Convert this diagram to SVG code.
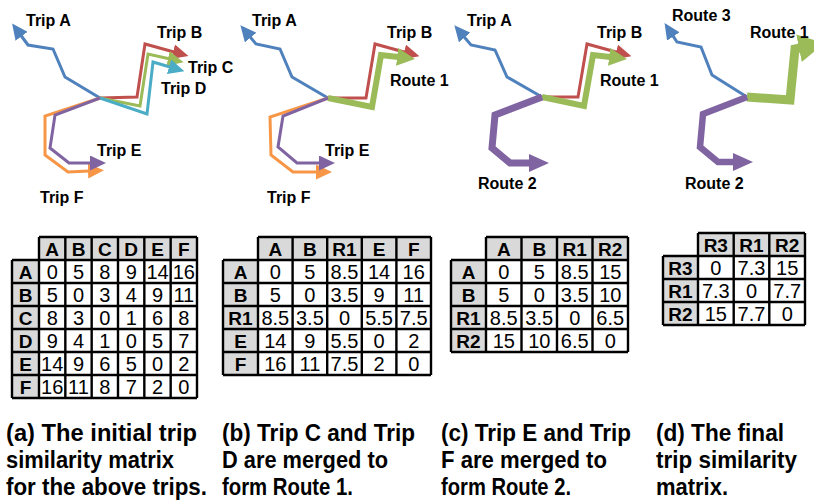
<svg xmlns="http://www.w3.org/2000/svg" width="814" height="501" viewBox="0 0 814 501">
<style>
.bg{fill:#fff}
.hdr{fill:#d9d9d9}
.grid{fill:none;stroke:#000;stroke-width:2.4}
.th{font-family:"Liberation Sans",Arial,sans-serif;font-weight:bold;font-size:19px;text-anchor:middle;fill:#000}
.td{font-family:"Liberation Sans",Arial,sans-serif;font-size:20px;text-anchor:middle;fill:#000}
.lbl{font-family:"Liberation Sans",Arial,sans-serif;font-weight:bold;font-size:16px;fill:#000}
.cap{font-family:"Liberation Sans",Arial,sans-serif;font-weight:bold;font-size:23.5px;fill:#000}
.trip{fill:none;stroke-linejoin:miter;stroke-linecap:butt}
.w3{stroke-width:3}
.blue{stroke:#4f81bd}.red{stroke:#c0504d}.green{stroke:#9bbb59}.cyan{stroke:#4bacc6}.purple{stroke:#8064a2}.orange{stroke:#f79646}
</style>
<defs>
<marker id="ah-blue" markerUnits="userSpaceOnUse" viewBox="0 0 16 15" markerWidth="16" markerHeight="15" refX="1" refY="7.5" orient="auto"><path d="M0,0 L16,7.5 L0,15 z" fill="#4f81bd"/></marker>
<marker id="ah-red" markerUnits="userSpaceOnUse" viewBox="0 0 16 15" markerWidth="16" markerHeight="15" refX="1" refY="7.5" orient="auto"><path d="M0,0 L16,7.5 L0,15 z" fill="#c0504d"/></marker>
<marker id="ah-green" markerUnits="userSpaceOnUse" viewBox="0 0 16 15" markerWidth="16" markerHeight="15" refX="1" refY="7.5" orient="auto"><path d="M0,0 L16,7.5 L0,15 z" fill="#9bbb59"/></marker>
<marker id="ah-cyan" markerUnits="userSpaceOnUse" viewBox="0 0 16 15" markerWidth="16" markerHeight="15" refX="1" refY="7.5" orient="auto"><path d="M0,0 L16,7.5 L0,15 z" fill="#4bacc6"/></marker>
<marker id="ah-purple" markerUnits="userSpaceOnUse" viewBox="0 0 16 15" markerWidth="16" markerHeight="15" refX="1" refY="7.5" orient="auto"><path d="M0,0 L16,7.5 L0,15 z" fill="#8064a2"/></marker>
<marker id="ah-orange" markerUnits="userSpaceOnUse" viewBox="0 0 16 15" markerWidth="16" markerHeight="15" refX="1" refY="7.5" orient="auto"><path d="M0,0 L16,7.5 L0,15 z" fill="#f79646"/></marker>
<marker id="ah-green-m" markerUnits="userSpaceOnUse" viewBox="0 0 18 18" markerWidth="18" markerHeight="18" refX="1" refY="9" orient="auto"><path d="M0,0 L18,9 L0,18 z" fill="#9bbb59"/></marker>
<marker id="ah-purple-m" markerUnits="userSpaceOnUse" viewBox="0 0 20 18" markerWidth="20" markerHeight="18" refX="1" refY="9" orient="auto"><path d="M0,0 L20,9 L0,18 z" fill="#8064a2"/></marker>
<marker id="ah-green-l" markerUnits="userSpaceOnUse" viewBox="0 0 26 28" markerWidth="26" markerHeight="28" refX="1" refY="14" orient="auto"><path d="M0,0 L26,14 L0,28 z" fill="#9bbb59"/></marker>
</defs>
<rect class="bg" x="0" y="0" width="814" height="501"/>

<g id="connectors">
  <polyline id="a-tripA" class="trip w3 blue" points="100,98 65,77 53,49 28,45 21,35.5" marker-end="url(#ah-blue)"/>
  <polyline id="a-tripB" class="trip w3 red" points="100,98 137,97 145,44 174,52" marker-end="url(#ah-red)"/>
  <polyline id="a-tripC" class="trip w3 green" points="100,98 140,106 148,54 169,58.8" marker-end="url(#ah-green)"/>
  <polyline id="a-tripD" class="trip w3 cyan" points="100,98 147,114 153,62 170,67" marker-end="url(#ah-cyan)"/>
  <polyline id="a-tripF" class="trip w3 orange" points="100,98 45,116 45,155 68,172 89,171" marker-end="url(#ah-orange)"/>
  <polyline id="a-tripE" class="trip w3 purple" points="100,98 55,115 50,148 69,163 91,163" marker-end="url(#ah-purple)"/>
  <polyline id="b-tripA" class="trip w3 blue" points="328,98 292,77 280,49 256,44 250,36.8" marker-end="url(#ah-blue)"/>
  <polyline id="b-tripB" class="trip w3 red" points="328,98 366,98 375,44 405,52.2" marker-end="url(#ah-red)"/>
  <polyline id="b-route1" class="trip green" stroke-width="6" points="328,98 372,107 381,55 398.1,57" marker-end="url(#ah-green-m)"/>
  <polyline id="b-tripF" class="trip w3 orange" points="328,98 270,117 271,155 293,172 317,172" marker-end="url(#ah-orange)"/>
  <polyline id="b-tripE" class="trip w3 purple" points="328,98 283,116 278,147 297,163 320,163" marker-end="url(#ah-purple)"/>
  <polyline id="c-tripA" class="trip w3 blue" points="542,97 507,77 495,50 471,45 464,36.7" marker-end="url(#ah-blue)"/>
  <polyline id="c-tripB" class="trip w3 red" points="542,97 578,97 587,44 617,52.2" marker-end="url(#ah-red)"/>
  <polyline id="c-route1" class="trip green" stroke-width="6" points="542,97 584,106 593,55 610.1,57" marker-end="url(#ah-green-m)"/>
  <polyline id="c-route2" class="trip purple" stroke-width="7" points="542,97 495,115 492,148 510,163 530,163" marker-end="url(#ah-purple-m)"/>
  <polyline id="d-route3" class="trip w3 blue" points="747,97 712,75 701,47 677,42 672.8,35.6" marker-end="url(#ah-blue)"/>
  <polyline id="d-route1" class="trip green" stroke-width="9" points="747,97 790,100 795,49 800,48" marker-end="url(#ah-green-l)"/>
  <polyline id="d-route2" class="trip purple" stroke-width="6.5" points="747,97 703,114 700,147 718,162 734,162" marker-end="url(#ah-purple-m)"/>
</g>

<g id="labels-a">
  <text class="lbl" x="26" y="26">Trip A</text>
  <text class="lbl" x="157" y="37.5">Trip B</text>
  <text class="lbl" x="188" y="73">Trip C</text>
  <text class="lbl" x="161" y="94">Trip D</text>
  <text class="lbl" x="97" y="156">Trip E</text>
  <text class="lbl" x="40" y="203">Trip F</text>
</g>
<g id="labels-b">
  <text class="lbl" x="252" y="26">Trip A</text>
  <text class="lbl" x="387" y="37.5">Trip B</text>
  <text class="lbl" x="390" y="86">Route 1</text>
  <text class="lbl" x="325" y="156">Trip E</text>
  <text class="lbl" x="267" y="203">Trip F</text>
</g>
<g id="labels-c">
  <text class="lbl" x="467" y="26">Trip A</text>
  <text class="lbl" x="597" y="37.5">Trip B</text>
  <text class="lbl" x="600" y="86">Route 1</text>
  <text class="lbl" x="478" y="189">Route 2</text>
</g>
<g id="labels-d">
  <text class="lbl" x="672" y="21">Route 3</text>
  <text class="lbl" x="750" y="37.5">Route 1</text>
  <text class="lbl" x="685" y="189">Route 2</text>
</g>

<g id="table-a">
  <rect class="hdr" x="39" y="237" width="158" height="23"/>
  <rect class="hdr" x="12" y="260" width="27" height="138"/>
  <path class="grid" d="M39,237H197M12,260H197M12,283H197M12,306H197M12,329H197M12,352H197M12,375H197M12,398H197M12,260V398M39,237V398M65.33,237V398M91.67,237V398M118,237V398M144.33,237V398M170.67,237V398M197,237V398"/>
  <text class="th" y="255.5"><tspan x="52.2">A</tspan><tspan x="78.5">B</tspan><tspan x="104.8">C</tspan><tspan x="131.2">D</tspan><tspan x="157.5">E</tspan><tspan x="183.8">F</tspan></text>
  <text class="th" x="25.5" y="278.5">A</text><text class="th" x="25.5" y="301.5">B</text><text class="th" x="25.5" y="324.5">C</text><text class="th" x="25.5" y="347.5">D</text><text class="th" x="25.5" y="370.5">E</text><text class="th" x="25.5" y="393.5">F</text>
  <text class="td" y="278.5"><tspan x="52.2">0</tspan><tspan x="78.5">5</tspan><tspan x="104.8">8</tspan><tspan x="131.2">9</tspan><tspan x="157.5">14</tspan><tspan x="183.8">16</tspan></text>
  <text class="td" y="301.5"><tspan x="52.2">5</tspan><tspan x="78.5">0</tspan><tspan x="104.8">3</tspan><tspan x="131.2">4</tspan><tspan x="157.5">9</tspan><tspan x="183.8">11</tspan></text>
  <text class="td" y="324.5"><tspan x="52.2">8</tspan><tspan x="78.5">3</tspan><tspan x="104.8">0</tspan><tspan x="131.2">1</tspan><tspan x="157.5">6</tspan><tspan x="183.8">8</tspan></text>
  <text class="td" y="347.5"><tspan x="52.2">9</tspan><tspan x="78.5">4</tspan><tspan x="104.8">1</tspan><tspan x="131.2">0</tspan><tspan x="157.5">5</tspan><tspan x="183.8">7</tspan></text>
  <text class="td" y="370.5"><tspan x="52.2">14</tspan><tspan x="78.5">9</tspan><tspan x="104.8">6</tspan><tspan x="131.2">5</tspan><tspan x="157.5">0</tspan><tspan x="183.8">2</tspan></text>
  <text class="td" y="393.5"><tspan x="52.2">16</tspan><tspan x="78.5">11</tspan><tspan x="104.8">8</tspan><tspan x="131.2">7</tspan><tspan x="157.5">2</tspan><tspan x="183.8">0</tspan></text>
</g>

<g id="table-b">
  <rect class="hdr" x="258" y="237" width="173" height="23"/>
  <rect class="hdr" x="223" y="260" width="35" height="115"/>
  <path class="grid" d="M258,237H431M223,260H431M223,283H431M223,306H431M223,329H431M223,352H431M223,375H431M223,260V375M258,237V375M292.6,237V375M327.2,237V375M361.8,237V375M396.4,237V375M431,237V375"/>
  <text class="th" y="255.5"><tspan x="275.3">A</tspan><tspan x="309.9">B</tspan><tspan x="344.5">R1</tspan><tspan x="379.1">E</tspan><tspan x="413.7">F</tspan></text>
  <text class="th" x="240.5" y="278.5">A</text><text class="th" x="240.5" y="301.5">B</text><text class="th" x="240.5" y="324.5">R1</text><text class="th" x="240.5" y="347.5">E</text><text class="th" x="240.5" y="370.5">F</text>
  <text class="td" y="278.5"><tspan x="275.3">0</tspan><tspan x="309.9">5</tspan><tspan x="344.5">8.5</tspan><tspan x="379.1">14</tspan><tspan x="413.7">16</tspan></text>
  <text class="td" y="301.5"><tspan x="275.3">5</tspan><tspan x="309.9">0</tspan><tspan x="344.5">3.5</tspan><tspan x="379.1">9</tspan><tspan x="413.7">11</tspan></text>
  <text class="td" y="324.5"><tspan x="275.3">8.5</tspan><tspan x="309.9">3.5</tspan><tspan x="344.5">0</tspan><tspan x="379.1">5.5</tspan><tspan x="413.7">7.5</tspan></text>
  <text class="td" y="347.5"><tspan x="275.3">14</tspan><tspan x="309.9">9</tspan><tspan x="344.5">5.5</tspan><tspan x="379.1">0</tspan><tspan x="413.7">2</tspan></text>
  <text class="td" y="370.5"><tspan x="275.3">16</tspan><tspan x="309.9">11</tspan><tspan x="344.5">7.5</tspan><tspan x="379.1">2</tspan><tspan x="413.7">0</tspan></text>
</g>

<g id="table-c">
  <rect class="hdr" x="486" y="237" width="142" height="23"/>
  <rect class="hdr" x="451" y="260" width="35" height="92"/>
  <path class="grid" d="M486,237H628M451,260H628M451,283H628M451,306H628M451,329H628M451,352H628M451,260V352M486,237V352M521.5,237V352M557,237V352M592.5,237V352M628,237V352"/>
  <text class="th" y="255.5"><tspan x="503.75">A</tspan><tspan x="539.25">B</tspan><tspan x="574.75">R1</tspan><tspan x="610.25">R2</tspan></text>
  <text class="th" x="468.5" y="278.5">A</text><text class="th" x="468.5" y="301.5">B</text><text class="th" x="468.5" y="324.5">R1</text><text class="th" x="468.5" y="347.5">R2</text>
  <text class="td" y="278.5"><tspan x="503.75">0</tspan><tspan x="539.25">5</tspan><tspan x="574.75">8.5</tspan><tspan x="610.25">15</tspan></text>
  <text class="td" y="301.5"><tspan x="503.75">5</tspan><tspan x="539.25">0</tspan><tspan x="574.75">3.5</tspan><tspan x="610.25">10</tspan></text>
  <text class="td" y="324.5"><tspan x="503.75">8.5</tspan><tspan x="539.25">3.5</tspan><tspan x="574.75">0</tspan><tspan x="610.25">6.5</tspan></text>
  <text class="td" y="347.5"><tspan x="503.75">15</tspan><tspan x="539.25">10</tspan><tspan x="574.75">6.5</tspan><tspan x="610.25">0</tspan></text>
</g>

<g id="table-d">
  <rect class="hdr" x="698" y="233" width="107" height="23"/>
  <rect class="hdr" x="663" y="256" width="35" height="69"/>
  <path class="grid" d="M698,233H805M663,256H805M663,279H805M663,302H805M663,325H805M663,256V325M698,233V325M733.7,233V325M769.3,233V325M805,233V325"/>
  <text class="th" y="251.5"><tspan x="715.8">R3</tspan><tspan x="751.5">R1</tspan><tspan x="787.2">R2</tspan></text>
  <text class="th" x="680.5" y="274.5">R3</text><text class="th" x="680.5" y="297.5">R1</text><text class="th" x="680.5" y="320.5">R2</text>
  <text class="td" y="274.5"><tspan x="715.8">0</tspan><tspan x="751.5">7.3</tspan><tspan x="787.2">15</tspan></text>
  <text class="td" y="297.5"><tspan x="715.8">7.3</tspan><tspan x="751.5">0</tspan><tspan x="787.2">7.7</tspan></text>
  <text class="td" y="320.5"><tspan x="715.8">15</tspan><tspan x="751.5">7.7</tspan><tspan x="787.2">0</tspan></text>
</g>

<g id="captions">
  <text class="cap" x="6" y="441" textLength="191" lengthAdjust="spacingAndGlyphs">(a) The initial trip</text>
  <text class="cap" x="6" y="468" textLength="168" lengthAdjust="spacingAndGlyphs">similarity matrix</text>
  <text class="cap" x="6" y="495" textLength="201" lengthAdjust="spacingAndGlyphs">for the above trips.</text>
  <text class="cap" x="222" y="441" textLength="193" lengthAdjust="spacingAndGlyphs">(b) Trip C and Trip</text>
  <text class="cap" x="222" y="468" textLength="166" lengthAdjust="spacingAndGlyphs">D are merged to</text>
  <text class="cap" x="222" y="495" textLength="131" lengthAdjust="spacingAndGlyphs">form Route 1.</text>
  <text class="cap" x="441" y="441" textLength="190" lengthAdjust="spacingAndGlyphs">(c) Trip E and Trip</text>
  <text class="cap" x="441" y="468" textLength="166" lengthAdjust="spacingAndGlyphs">F are merged to</text>
  <text class="cap" x="441" y="495" textLength="130" lengthAdjust="spacingAndGlyphs">form Route 2.</text>
  <text class="cap" x="656" y="441" textLength="128" lengthAdjust="spacingAndGlyphs">(d) The final</text>
  <text class="cap" x="656" y="468" textLength="141" lengthAdjust="spacingAndGlyphs">trip similarity</text>
  <text class="cap" x="656" y="495" textLength="72" lengthAdjust="spacingAndGlyphs">matrix.</text>
</g>
</svg>
